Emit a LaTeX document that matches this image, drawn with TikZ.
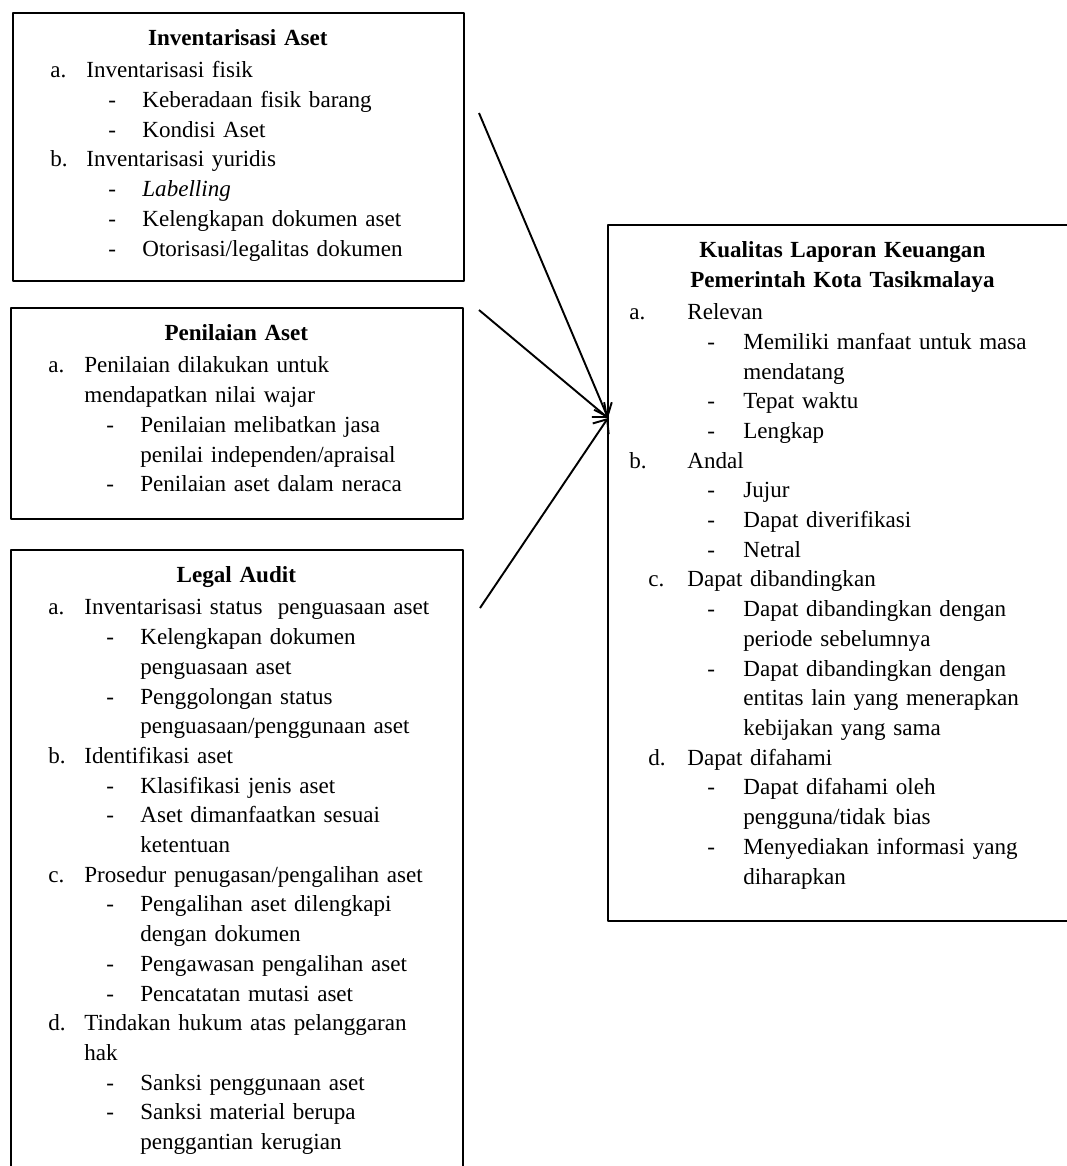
\documentclass[tikz,border=0pt]{standalone}
\usepackage{fontspec}
\setmainfont{Liberation Serif}
\usetikzlibrary{arrows.meta}

% jarak indentasi daftar
\newlength{\lblx}\newlength{\txtx}\newlength{\dashx}\newlength{\subx}
\newcommand{\judul}[1]{{\centering\rule{0pt}{17.2pt}\textbf{#1}\par}\vspace{1.4pt}}
\newcommand{\butir}[3][\lblx]{\par\noindent\hspace*{#1}\makebox[\dimexpr\txtx-#1\relax][l]{#2}#3}
\newcommand{\lanjut}[1]{\par\noindent\hspace*{\txtx}#1}
\newcommand{\subbutir}[1]{\par\noindent\hspace*{\dashx}\makebox[\dimexpr\subx-\dashx\relax][l]{-}#1}
\newcommand{\sublanjut}[1]{\par\noindent\hspace*{\subx}#1}

\tikzset{
  kotak/.style={draw, line width=0.8pt, inner sep=0pt, anchor=north west},
  isi/.style={anchor=north west, inner sep=0pt, text width=#1,
    font=\fontsize{12}{15.45}\selectfont},
  kiri/.style={execute at begin node={\setlength{\lblx}{19.76pt}\setlength{\txtx}{38.48pt}%
    \setlength{\dashx}{49.92pt}\setlength{\subx}{67.6pt}}},
  kanan/.style={execute at begin node={\setlength{\lblx}{11.44pt}\setlength{\txtx}{41.6pt}%
    \setlength{\dashx}{52pt}\setlength{\subx}{70.72pt}}},
  panah/.style={-{Straight Barb[length=6pt,width=10pt]}, line width=1pt}
}

\begin{document}
\begin{tikzpicture}[x=0.52pt, y=-0.52pt, line join=round]
\useasboundingbox (0,0) rectangle (1067,1166);
\clip (0,0) rectangle (1067,1166);
% Kotak kiri atas
\node[kotak, minimum width=234.52pt, minimum height=139.36pt] (inv) at (12,12) {};
\node[isi=234.5pt, kiri] (inv-isi) at (inv.north west) {%
\judul{Inventarisasi Aset}
\butir{a.}{Inventarisasi fisik}
\subbutir{Keberadaan fisik barang}
\subbutir{Kondisi Aset}
\butir{b.}{Inventarisasi yuridis}
\subbutir{\textit{Labelling}}
\subbutir{Kelengkapan dokumen aset}
\subbutir{Otorisasi/legalitas dokumen}\par};
% Kotak kiri tengah
\node[kotak, minimum width=235.04pt, minimum height=109.72pt] (nilai) at (10,307) {};
\node[isi=235pt, kiri] (nilai-isi) at (nilai.north west) {%
\judul{Penilaian Aset}
\butir{a.}{Penilaian dilakukan untuk}
\lanjut{mendapatkan nilai wajar}
\subbutir{Penilaian melibatkan jasa}
\sublanjut{penilai independen/apraisal}
\subbutir{Penilaian aset dalam neraca}\par};
% Kotak kiri bawah
\node[kotak, minimum width=235.04pt, minimum height=338pt] (legal) at (10,549) {};
\node[isi=235pt, kiri] (legal-isi) at (legal.north west) {%
\judul{Legal Audit}
\butir{a.}{Inventarisasi status\ \ penguasaan aset}
\subbutir{Kelengkapan dokumen}
\sublanjut{penguasaan aset}
\subbutir{Penggolongan status}
\sublanjut{penguasaan/penggunaan aset}
\butir{b.}{Identifikasi aset}
\subbutir{Klasifikasi jenis aset}
\subbutir{Aset dimanfaatkan sesuai}
\sublanjut{ketentuan}
\butir{c.}{Prosedur penugasan/pengalihan aset}
\subbutir{Pengalihan aset dilengkapi}
\sublanjut{dengan dokumen}
\subbutir{Pengawasan pengalihan aset}
\subbutir{Pencatatan mutasi aset}
\butir{d.}{Tindakan hukum atas pelanggaran}
\lanjut{hak}
\subbutir{Sanksi penggunaan aset}
\subbutir{Sanksi material berupa}
\sublanjut{penggantian kerugian}\par};
% Kotak kanan
\node[kotak, minimum width=260pt, minimum height=361.92pt] (kualitas) at (607,224) {};
\node[isi=244.4pt, kanan] (kualitas-isi) at (kualitas.north west) {%
\judul{Kualitas Laporan Keuangan\\Pemerintah Kota Tasikmalaya}
\butir{a.}{Relevan}
\subbutir{Memiliki manfaat untuk masa}
\sublanjut{mendatang}
\subbutir{Tepat waktu}
\subbutir{Lengkap}
\butir{b.}{Andal}
\subbutir{Jujur}
\subbutir{Dapat diverifikasi}
\subbutir{Netral}
\butir[21.32pt]{c.}{Dapat dibandingkan}
\subbutir{Dapat dibandingkan dengan}
\sublanjut{periode sebelumnya}
\subbutir{Dapat dibandingkan dengan}
\sublanjut{entitas lain yang menerapkan}
\sublanjut{kebijakan yang sama}
\butir[21.32pt]{d.}{Dapat difahami}
\subbutir{Dapat difahami oleh}
\sublanjut{pengguna/tidak bias}
\subbutir{Menyediakan informasi yang}
\sublanjut{diharapkan}\par};
% Panah
\coordinate (s1) at (479,113);
\coordinate (s2) at (479,310);
\coordinate (s3) at (480,608);
\coordinate (tip) at (608,418);
\draw[panah] (s1) -- (tip);
\draw[panah] (s2) -- (tip);
\draw[panah] (s3) -- (tip);
\end{tikzpicture}
\end{document}
